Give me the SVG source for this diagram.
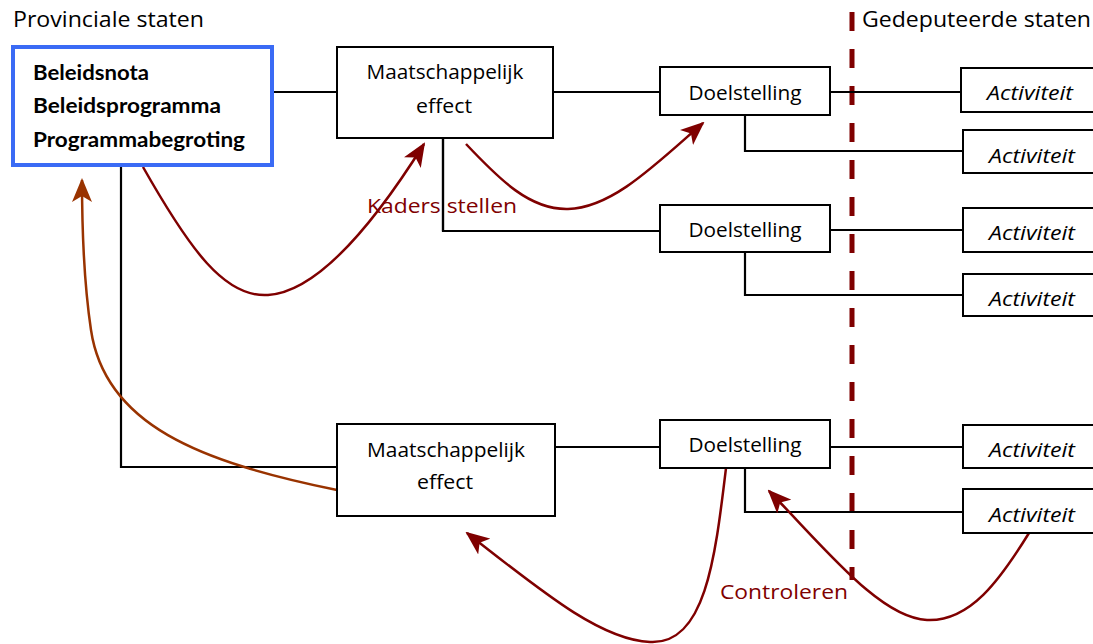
<svg xmlns="http://www.w3.org/2000/svg" width="1093" height="644" viewBox="0 0 1093 644">
<style>
.box{fill:#fff;stroke:#000;stroke-width:2}
.t{font-family:"Open Sans","Liberation Sans",sans-serif;font-size:20px;fill:#000}
.c{text-anchor:middle}
.b{font-family:Lato,"Liberation Sans",sans-serif;font-weight:bold;font-size:20px}
.i{font-style:italic}
.red{fill:#7f0000}
.ln{fill:none;stroke:#000;stroke-width:2.2}
.arr{fill:none;stroke:#7f0000;stroke-width:2.5}
.arr2{fill:none;stroke:#993300;stroke-width:2.5}
</style>
<defs>
<marker id="ah" viewBox="0 0 24 20" markerWidth="24" markerHeight="20" refX="22" refY="10" orient="auto" markerUnits="userSpaceOnUse">
<path d="M0,0 L24,10 L0,20 L6,10 z" fill="#7f0000"/>
</marker>
<marker id="ah2" viewBox="0 0 24 20" markerWidth="24" markerHeight="20" refX="22" refY="10" orient="auto" markerUnits="userSpaceOnUse">
<path d="M0,0 L24,10 L0,20 L6,10 z" fill="#993300"/>
</marker>
</defs>
<rect width="1093" height="644" fill="#fff"/>

<g id="labels">
<text class="t" x="13" y="27" style="font-size:22px" textLength="191" lengthAdjust="spacingAndGlyphs">Provinciale staten</text>
<text class="t" x="862" y="27" style="font-size:22px" textLength="229" lengthAdjust="spacingAndGlyphs">Gedeputeerde staten</text>
</g>

<g id="divider">
<line x1="852" y1="12" x2="852" y2="580" stroke="#7f0000" stroke-width="5" stroke-dasharray="19 18"/>
</g>

<g id="connectors">
<polyline class="ln" points="274,92 337,92"/>
<polyline class="ln" points="553,92 660,92"/>
<polyline class="ln" points="443,138 443,231 660,231"/>
<polyline class="ln" points="830,92 961,92"/>
<polyline class="ln" points="745,115 745,151 963,151"/>
<polyline class="ln" points="830,230 963,230"/>
<polyline class="ln" points="745,252 745,295 963,295"/>
<polyline class="ln" points="121,166 121,467 337,467"/>
<polyline class="ln" points="555,447 660,447"/>
<polyline class="ln" points="830,447 963,447"/>
<polyline class="ln" points="745,468 745,512 963,512"/>
<path class="arr" d="M143,167 C190,250 225,298 268,295 C315,292 370,230 424,144" marker-end="url(#ah)"/>
<path class="arr" d="M466,144 C500,180 530,210 568,209 C612,208 655,165 703,123" marker-end="url(#ah)"/>
<path class="arr2" d="M337,490 C200,462 105,425 91,330 C85,290 82,240 82,180" marker-end="url(#ah2)"/>
<path class="arr" d="M726,468 C715,560 705,645 650,642 C600,640 540,590 467,533" marker-end="url(#ah)"/>
<path class="arr" d="M1029,533 C1000,580 970,622 927,620 C880,618 825,548 769,491" marker-end="url(#ah)"/>
</g>

<g id="node-beleid">
<rect x="13" y="47" width="259" height="118" fill="#fff" stroke="#3a6bf5" stroke-width="4"/>
<text class="t b" x="33" y="80" textLength="116" lengthAdjust="spacingAndGlyphs">Beleidsnota</text>
<text class="t b" x="33" y="113" textLength="188" lengthAdjust="spacingAndGlyphs">Beleidsprogramma</text>
<text class="t b" x="33" y="147" textLength="212" lengthAdjust="spacingAndGlyphs">Programmabegroting</text>
</g>

<g id="node-effect-1">
<rect class="box" x="337" y="47" width="216" height="91"/>
<text class="t c" x="445" y="79" textLength="157" lengthAdjust="spacingAndGlyphs">Maatschappelijk</text>
<text class="t c" x="444" y="113" textLength="56" lengthAdjust="spacingAndGlyphs">effect</text>
</g>

<g id="node-effect-2">
<rect class="box" x="337" y="424" width="218" height="92"/>
<text class="t c" x="446" y="457" textLength="158" lengthAdjust="spacingAndGlyphs">Maatschappelijk</text>
<text class="t c" x="445" y="489" textLength="56" lengthAdjust="spacingAndGlyphs">effect</text>
</g>

<g id="node-doel-1">
<rect class="box" x="660" y="67" width="170" height="48"/>
<text class="t c" x="745" y="100" textLength="113" lengthAdjust="spacingAndGlyphs">Doelstelling</text>
</g>
<g id="node-doel-2">
<rect class="box" x="660" y="205" width="170" height="47"/>
<text class="t c" x="745" y="237" textLength="113" lengthAdjust="spacingAndGlyphs">Doelstelling</text>
</g>
<g id="node-doel-3">
<rect class="box" x="660" y="420" width="170" height="48"/>
<text class="t c" x="745" y="452" textLength="113" lengthAdjust="spacingAndGlyphs">Doelstelling</text>
</g>

<g id="node-act-1">
<rect class="box" x="961" y="68" width="150" height="44"/>
<text class="t i c" x="1030" y="100" textLength="86" lengthAdjust="spacingAndGlyphs">Activiteit</text>
</g>
<g id="node-act-2">
<rect class="box" x="963" y="130" width="150" height="43"/>
<text class="t i c" x="1032" y="163" textLength="86" lengthAdjust="spacingAndGlyphs">Activiteit</text>
</g>
<g id="node-act-3">
<rect class="box" x="963" y="208" width="150" height="44"/>
<text class="t i c" x="1032" y="240" textLength="86" lengthAdjust="spacingAndGlyphs">Activiteit</text>
</g>
<g id="node-act-4">
<rect class="box" x="963" y="274" width="150" height="42"/>
<text class="t i c" x="1032" y="306" textLength="86" lengthAdjust="spacingAndGlyphs">Activiteit</text>
</g>
<g id="node-act-5">
<rect class="box" x="963" y="425" width="150" height="43"/>
<text class="t i c" x="1032" y="457" textLength="86" lengthAdjust="spacingAndGlyphs">Activiteit</text>
</g>
<g id="node-act-6">
<rect class="box" x="963" y="489" width="150" height="44"/>
<text class="t i c" x="1032" y="522" textLength="86" lengthAdjust="spacingAndGlyphs">Activiteit</text>
</g>

<g id="edge-labels">
<text class="t red" x="367" y="213" textLength="150" lengthAdjust="spacingAndGlyphs">Kaders stellen</text>
<text class="t red" x="720" y="599" textLength="128" lengthAdjust="spacingAndGlyphs">Controleren</text>
</g>
<line x1="443" y1="138" x2="443" y2="231" stroke="#000" stroke-width="2.2"/>
</svg>
